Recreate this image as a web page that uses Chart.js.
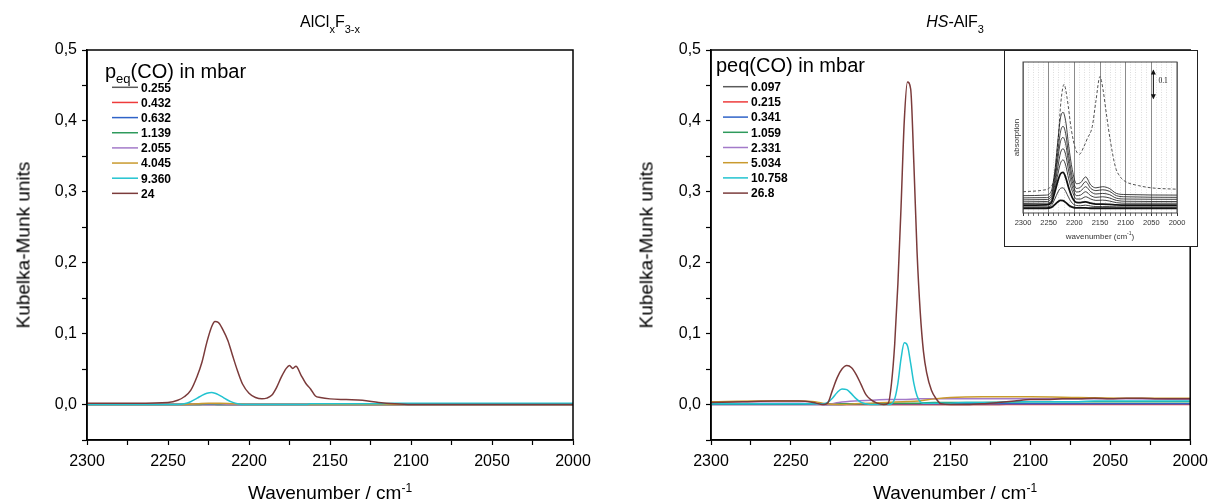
<!DOCTYPE html>
<html lang="en">
<head>
<meta charset="UTF-8">
<title>CO adsorption - Kubelka-Munk spectra</title>
<script src="https://cdn.jsdelivr.net/npm/chart.js"></script>
<style>
  body { margin: 0; background: #fff; font-family: "Liberation Sans", Arial, sans-serif; }
  #wrap { position: relative; width: 1215px; height: 504px; overflow: hidden; }
  canvas { position: absolute; }
  .txt { position: absolute; white-space: nowrap; color: #000; line-height: 1; }
  .ptitle { font-size: 16px; top: 14px; transform: translateX(-50%); }
  .ptitle sub { font-size: 11px; vertical-align: -6px; }
  .xtitle { font-size: 19px; top: 482px; transform: translateX(-50%); }
  .xtitle sup { font-size: 12px; vertical-align: 7px; }
  .ytitle { font-size: 19px; transform: translate(-50%, -50%) rotate(-90deg); }
</style>
</head>
<body>
<div id="wrap">
  <canvas id="left" width="605" height="504" style="left:0;top:0"></canvas>
  <canvas id="right" width="610" height="504" style="left:605px;top:0"></canvas>
  <canvas id="inset" width="194" height="197" style="left:1004px;top:50px"></canvas>
  <div class="txt ptitle" style="left:330px">AlCl<sub>x</sub>F<sub>3-x</sub></div>
  <div class="txt ptitle" style="left:955px"><i>HS</i>-AlF<sub>3</sub></div>
  <div class="txt xtitle" style="left:330px">Wavenumber / cm<sup>-1</sup></div>
  <div class="txt xtitle" style="left:955px">Wavenumber / cm<sup>-1</sup></div>
  <div class="txt ytitle" style="left:23px;top:245px">Kubelka-Munk units</div>
  <div class="txt ytitle" style="left:646px;top:245px">Kubelka-Munk units</div>
</div>
<script>
// ---- data: AlClxF3-x (left) ----
const leftLabels = ['0.255', '0.432', '0.632', '1.139', '2.055', '4.045', '9.360', '24'];
const colors = ['#5a5a5a', '#ee3b3b', '#2f63c8', '#2e9a5c', '#a37ac9', '#c99a2e', '#22c3d0', '#7b3b3b'];

const leftWn = [2300, 2270, 2250, 2244, 2240, 2236, 2232, 2229, 2226, 2223,
  2221, 2219, 2216, 2213, 2210, 2207, 2204, 2200, 2196, 2192,
  2189, 2186, 2183, 2180, 2177, 2175, 2173, 2171, 2168, 2165,
  2162, 2159, 2156, 2150, 2140, 2130, 2120, 2110, 2100, 2050, 2000];
const left24 = [0.002, 0.002, 0.003, 0.006, 0.011, 0.020, 0.040, 0.060, 0.088, 0.110,
  0.117, 0.116, 0.105, 0.090, 0.068, 0.047, 0.029, 0.016, 0.010, 0.008,
  0.009, 0.013, 0.024, 0.039, 0.051, 0.055, 0.051, 0.054, 0.042, 0.030,
  0.022, 0.012, 0.010, 0.008, 0.007, 0.006, 0.003, 0.001, 0.000, 0.000, 0.000];
const left9360 = [0, 0, 0, 0, 0.001, 0.004, 0.009, 0.013, 0.016, 0.017,
  0.016, 0.014, 0.010, 0.006, 0.003, 0.001, 0, 0, 0, 0,
  0, 0, 0, 0, 0, 0, 0, 0, 0, 0,
  0.001, 0.001, 0.001, 0.001, 0.001, 0.001, 0.001, 0.002, 0.002, 0.002, 0.002];
const leftFlatWn = [2300, 2250, 2240, 2232, 2225, 2218, 2210, 2200, 2150, 2100, 2000];
const left0255 = [0, 0, 0, 0, 0, 0, 0, 0, 0, 0, 0];
const left0432 = [0, 0, 0, 0, 0, 0, 0, 0, 0, 0, 0];
const left0632 = [0, 0, 0, 0, 0, 0, 0, 0, 0, 0, 0];
const left1139 = [0, 0, 0, 0, 0.001, 0, 0, 0, 0, 0, 0];
const left2055 = [0, 0, 0, 0.001, 0.001, 0.001, 0, 0, 0, 0, 0];
const left4045 = [0, 0, 0, 0.001, 0.002, 0.002, 0.001, 0, 0, 0, 0];

// ---- data: HS-AlF3 (right) ----
const rightLabels = ['0.097', '0.215', '0.341', '1.059', '2.331', '5.034', '10.758', '26.8'];
const rightWn = [2300, 2280, 2260, 2245, 2236, 2230, 2227, 2224, 2221, 2218,
  2215, 2212, 2209, 2206, 2203, 2200, 2196, 2192, 2189, 2187,
  2185, 2183, 2181, 2179, 2177, 2175, 2173, 2171, 2169, 2167,
  2165, 2162, 2159, 2156, 2150, 2140, 2130, 2120, 2110, 2100,
  2090, 2080, 2070, 2060, 2050, 2040, 2030, 2020, 2010, 2000];
const right268 = [0.003, 0.004, 0.005, 0.005, 0.003, 0.000, 0.002, 0.020, 0.038, 0.050,
  0.055, 0.052, 0.042, 0.028, 0.014, 0.007, 0.002, 0.000, 0.002, 0.030,
  0.085, 0.170, 0.280, 0.400, 0.455, 0.445, 0.340, 0.215, 0.130, 0.075,
  0.045, 0.020, 0.008, 0.001, 0.000, 0.000, 0.001, 0.003, 0.005, 0.007,
  0.007, 0.008, 0.008, 0.009, 0.008, 0.009, 0.009, 0.008, 0.008, 0.008];
const right10758 = [0.001, 0.001, 0.001, 0.001, 0.001, 0.001, 0.003, 0.009, 0.017, 0.022,
  0.021, 0.015, 0.008, 0.003, 0.001, 0, 0, 0, 0, 0.001,
  0.008, 0.030, 0.065, 0.087, 0.083, 0.058, 0.030, 0.012, 0.004, 0.002,
  0.002, 0.002, 0.002, 0.002, 0.002, 0.003, 0.003, 0.003, 0.004, 0.004,
  0.004, 0.004, 0.004, 0.005, 0.005, 0.005, 0.005, 0.005, 0.005, 0.005];
const rightBaseWn = [2300, 2270, 2245, 2235, 2228, 2220, 2210, 2200, 2190, 2180, 2170, 2160, 2150, 2130, 2100, 2070, 2040, 2000];
const right0097 = [0.001, 0.001, 0.001, 0.001, 0, 0, 0, 0, 0, 0, 0, 0, 0, 0, 0.001, 0.001, 0.001, 0.001];
const right0215 = [0, 0, 0, 0, 0, 0, 0, 0, 0, 0, 0, 0, 0, 0, 0, 0, 0, 0];
const right0341 = [0, 0, 0, 0, 0, 0, 0.001, 0.001, 0.001, 0.001, 0.001, 0.001, 0.001, 0.001, 0.001, 0.001, 0.001, 0.001];
const right1059 = [0.001, 0.001, 0.001, 0.001, 0.001, 0.001, 0.001, 0.001, 0.002, 0.002, 0.002, 0.003, 0.003, 0.003, 0.004, 0.004, 0.004, 0.004];
const right2331 = [0.002, 0.002, 0.002, 0.001, 0.000, 0.003, 0.005, 0.006, 0.007, 0.007, 0.008, 0.008, 0.008, 0.008, 0.008, 0.008, 0.008, 0.007];
const right5034 = [0.004, 0.005, 0.005, 0.004, 0.001, 0.000, 0.001, 0.002, 0.003, 0.004, 0.005, 0.008, 0.010, 0.011, 0.011, 0.010, 0.009, 0.009];

// ---- data: inset (absorption, arbitrary units) ----
const insetWn = [2300, 2255, 2245, 2238, 2232, 2227, 2222, 2217, 2211, 2204,
  2196, 2188, 2178, 2168, 2158, 2145, 2132, 2118, 2100, 2000];
const insetCurves = [
  [0.017, 0.017, 0.020, 0.030, 0.040, 0.045, 0.044, 0.038, 0.028, 0.021, 0.018, 0.018, 0.018, 0.017, 0.017, 0.017, 0.017, 0.017, 0.017, 0.017],
  [0.022, 0.022, 0.027, 0.050, 0.075, 0.088, 0.090, 0.078, 0.055, 0.035, 0.027, 0.026, 0.028, 0.025, 0.023, 0.023, 0.023, 0.022, 0.022, 0.022],
  [0.028, 0.029, 0.036, 0.075, 0.115, 0.140, 0.145, 0.128, 0.090, 0.055, 0.038, 0.037, 0.040, 0.035, 0.032, 0.032, 0.031, 0.029, 0.028, 0.028],
  [0.034, 0.035, 0.042, 0.085, 0.140, 0.178, 0.190, 0.172, 0.122, 0.078, 0.050, 0.050, 0.058, 0.050, 0.045, 0.046, 0.043, 0.037, 0.035, 0.035],
  [0.040, 0.041, 0.050, 0.100, 0.165, 0.215, 0.230, 0.210, 0.150, 0.095, 0.062, 0.064, 0.076, 0.062, 0.056, 0.058, 0.054, 0.045, 0.042, 0.041],
  [0.047, 0.048, 0.058, 0.115, 0.195, 0.255, 0.270, 0.248, 0.178, 0.112, 0.075, 0.078, 0.094, 0.076, 0.068, 0.070, 0.066, 0.053, 0.050, 0.049],
  [0.054, 0.055, 0.066, 0.130, 0.220, 0.290, 0.310, 0.285, 0.205, 0.130, 0.088, 0.092, 0.112, 0.088, 0.080, 0.083, 0.078, 0.062, 0.058, 0.056],
  [0.062, 0.064, 0.078, 0.150, 0.260, 0.340, 0.360, 0.330, 0.240, 0.155, 0.105, 0.108, 0.129, 0.100, 0.090, 0.094, 0.088, 0.070, 0.066, 0.064]
];
const insetThick = [0, 2];
const dashWn = [2300, 2260, 2250, 2240, 2232, 2226, 2220, 2214, 2206, 2198, 2190, 2182, 2175, 2165, 2158,
  2150, 2144, 2138, 2130, 2120, 2110, 2100, 2075, 2050, 2000];
const dashY = [0.076, 0.082, 0.088, 0.120, 0.250, 0.400, 0.460, 0.410, 0.300, 0.230, 0.210, 0.235, 0.265, 0.310, 0.400,
  0.488, 0.440, 0.360, 0.260, 0.165, 0.128, 0.112, 0.098, 0.090, 0.085];

const FONT = '"Liberation Sans", Arial, sans-serif';

function pts(xs, ys) {
  return xs.map((x, i) => ({ x: x, y: ys[i] }));
}

function spectrumSets(labels, series) {
  return series.map((s, i) => ({
    label: labels[i],
    data: pts(s[0], s[1]),
    borderColor: colors[i],
    borderWidth: 1.5,
    pointRadius: 0,
    cubicInterpolationMode: 'monotone',
    order: series.length - i
  }));
}

const framePlugin = {
  id: 'frame',
  afterDraw(chart) {
    const { ctx, chartArea: a } = chart;
    ctx.save();
    ctx.strokeStyle = '#000';
    ctx.lineWidth = 1.5;
    ctx.strokeRect(a.left, a.top, a.right - a.left, a.bottom - a.top);
    ctx.restore();
  }
};

const keyPlugin = {
  id: 'key',
  afterDraw(chart, args, o) {
    const ctx = chart.ctx;
    ctx.save();
    ctx.fillStyle = '#000';
    ctx.textBaseline = 'alphabetic';
    let x = o.x;
    o.title.forEach(p => {
      ctx.font = (p.sub ? '13px ' : '20px ') + FONT;
      ctx.fillText(p.t, x, o.y + (p.sub ? 5 : 0));
      x += ctx.measureText(p.t).width;
    });
    ctx.font = 'bold 12px ' + FONT;
    ctx.textBaseline = 'middle';
    chart.data.datasets.forEach((ds, i) => {
      const y = o.top + i * o.gap;
      ctx.strokeStyle = ds.borderColor;
      ctx.lineWidth = 1.5;
      ctx.beginPath();
      ctx.moveTo(o.x0, y);
      ctx.lineTo(o.x1, y);
      ctx.stroke();
      ctx.fillText(ds.label, o.x1 + 3, y + 1);
    });
    ctx.restore();
  }
};

function mainOptions(yWidth, padRight, key) {
  return {
    responsive: false,
    animation: false,
    layout: { padding: { left: 0, right: padRight, top: 50, bottom: 0 } },
    plugins: { legend: { display: false }, tooltip: { enabled: false }, key: key },
    scales: {
      x: {
        type: 'linear', min: 2000, max: 2300, reverse: true,
        afterFit(s) { s.height = 64; },
        grid: { drawOnChartArea: false, tickLength: 5, tickColor: '#000', tickWidth: 1.2 },
        border: { display: true, color: '#000', width: 1.5 },
        ticks: {
          stepSize: 25, autoSkip: false, maxRotation: 0, padding: 7,
          color: '#000', font: { family: FONT, size: 16 },
          callback: v => (v % 50 === 0 ? String(v) : '')
        }
      },
      y: {
        min: -0.05, max: 0.5,
        afterFit(s) { s.width = yWidth; },
        grid: { drawOnChartArea: false, tickLength: 5, tickColor: '#000', tickWidth: 1.2 },
        border: { display: true, color: '#000', width: 1.5 },
        ticks: {
          stepSize: 0.05, autoSkip: false, padding: 5,
          color: '#000', font: { family: FONT, size: 16 },
          callback: v => {
            const r = Math.round(v * 100);
            return r % 10 === 0 ? (r / 100).toFixed(1).replace('.', ',') : '';
          }
        }
      }
    }
  };
}

new Chart(document.getElementById('left'), {
  type: 'line',
  data: {
    datasets: spectrumSets(leftLabels, [
      [leftFlatWn, left0255], [leftFlatWn, left0432], [leftFlatWn, left0632], [leftFlatWn, left1139],
      [leftFlatWn, left2055], [leftFlatWn, left4045], [leftWn, left9360], [leftWn, left24]
    ])
  },
  options: mainOptions(87, 32, {
    x: 105, y: 78,
    title: [{ t: 'p' }, { t: 'eq', sub: true }, { t: '(CO) in mbar' }],
    top: 87.3, gap: 15.15, x0: 112, x1: 138
  }),
  plugins: [framePlugin, keyPlugin]
});

new Chart(document.getElementById('right'), {
  type: 'line',
  data: {
    datasets: spectrumSets(rightLabels, [
      [rightBaseWn, right0097], [rightBaseWn, right0215], [rightBaseWn, right0341], [rightBaseWn, right1059],
      [rightBaseWn, right2331], [rightBaseWn, right5034], [rightWn, right10758], [rightWn, right268]
    ])
  },
  options: mainOptions(106, 16, {
    x: 111, y: 72,
    title: [{ t: 'peq(CO) in mbar' }],
    top: 86.7, gap: 15.2, x0: 118, x1: 143
  }),
  plugins: [framePlugin, keyPlugin]
});

// ---- inset ----
const insetSets = insetCurves.map((c, i) => ({
  data: pts(insetWn, c),
  borderColor: '#111',
  borderWidth: insetThick.includes(i) ? 1.8 : 0.8,
  pointRadius: 0,
  cubicInterpolationMode: 'monotone'
}));
insetSets.push({
  data: pts(dashWn, dashY),
  borderColor: '#555',
  borderWidth: 1,
  borderDash: [3, 2],
  pointRadius: 0,
  cubicInterpolationMode: 'monotone'
});

const insetDeco = {
  id: 'insetDeco',
  beforeDraw(chart) {
    const ctx = chart.ctx;
    ctx.save();
    ctx.fillStyle = '#fff';
    ctx.fillRect(0, 0, chart.width, chart.height);
    ctx.restore();
  },
  afterDraw(chart) {
    const { ctx, chartArea: a, scales } = chart;
    ctx.save();
    ctx.strokeStyle = '#222';
    ctx.lineWidth = 1;
    ctx.strokeRect(0.5, 0.5, chart.width - 1, chart.height - 1);
    ctx.strokeStyle = '#444';
    ctx.strokeRect(a.left, a.top, a.right - a.left, a.bottom - a.top);
    // y title
    ctx.fillStyle = '#333';
    ctx.font = '8px ' + FONT;
    ctx.textAlign = 'center';
    ctx.textBaseline = 'middle';
    ctx.save();
    ctx.translate(a.left - 6, (a.top + a.bottom) / 2);
    ctx.rotate(-Math.PI / 2);
    ctx.fillText('absorption', 0, 0);
    ctx.restore();
    // x title
    const cx = (a.left + a.right) / 2, ty = a.bottom + 24;
    const t1 = 'wavenumber (cm', t2 = '-1', t3 = ')';
    ctx.font = '8px ' + FONT;
    const w1 = ctx.measureText(t1).width, w3 = ctx.measureText(t3).width;
    ctx.font = '5px ' + FONT;
    const w2 = ctx.measureText(t2).width;
    let x = cx - (w1 + w2 + w3) / 2;
    ctx.textAlign = 'left';
    ctx.font = '8px ' + FONT;
    ctx.fillText(t1, x, ty); x += w1;
    ctx.font = '5px ' + FONT;
    ctx.fillText(t2, x, ty - 3); x += w2;
    ctx.font = '8px ' + FONT;
    ctx.fillText(t3, x, ty);
    // scale arrow (0.1)
    const ax = scales.x.getPixelForValue(2046);
    const y0 = scales.y.getPixelForValue(0.41), y1 = scales.y.getPixelForValue(0.51);
    ctx.strokeStyle = '#111';
    ctx.fillStyle = '#111';
    ctx.lineWidth = 1;
    ctx.beginPath(); ctx.moveTo(ax, y0); ctx.lineTo(ax, y1); ctx.stroke();
    ctx.beginPath(); ctx.moveTo(ax, y1 - 1); ctx.lineTo(ax - 2.5, y1 + 4); ctx.lineTo(ax + 2.5, y1 + 4); ctx.fill();
    ctx.beginPath(); ctx.moveTo(ax, y0 + 1); ctx.lineTo(ax - 2.5, y0 - 4); ctx.lineTo(ax + 2.5, y0 - 4); ctx.fill();
    ctx.font = '7.5px "Liberation Serif", serif';
    ctx.fillText('0.1', ax + 5, (y0 + y1) / 2 - 3);
    ctx.restore();
  }
};

new Chart(document.getElementById('inset'), {
  type: 'line',
  data: { datasets: insetSets },
  options: {
    responsive: false,
    animation: false,
    layout: { padding: { left: 19, right: 21, top: 12, bottom: 0 } },
    plugins: { legend: { display: false }, tooltip: { enabled: false } },
    scales: {
      x: {
        type: 'linear', min: 2000, max: 2300, reverse: true,
        afterFit(s) { s.height = 34; },
        grid: {
          color: c => (c.tick && c.tick.value % 50 === 0 ? '#8c8c8c' : '#cfcfcf'),
          lineWidth: c => (c.tick && c.tick.value % 50 === 0 ? 1 : 0.7),
          tickLength: 3, tickColor: '#333'
        },
        border: {
          display: false,
          dash: c => (c.tick && c.tick.value % 50 === 0 ? [] : [1, 1.5])
        },
        ticks: {
          stepSize: 10, autoSkip: false, maxRotation: 0, padding: 2,
          color: '#333', font: { family: FONT, size: 7.5 },
          callback: v => (v % 50 === 0 ? String(v) : '')
        }
      },
      y: { display: false, min: 0, max: 0.54 }
    }
  },
  plugins: [insetDeco]
});
</script>
</body>
</html>
